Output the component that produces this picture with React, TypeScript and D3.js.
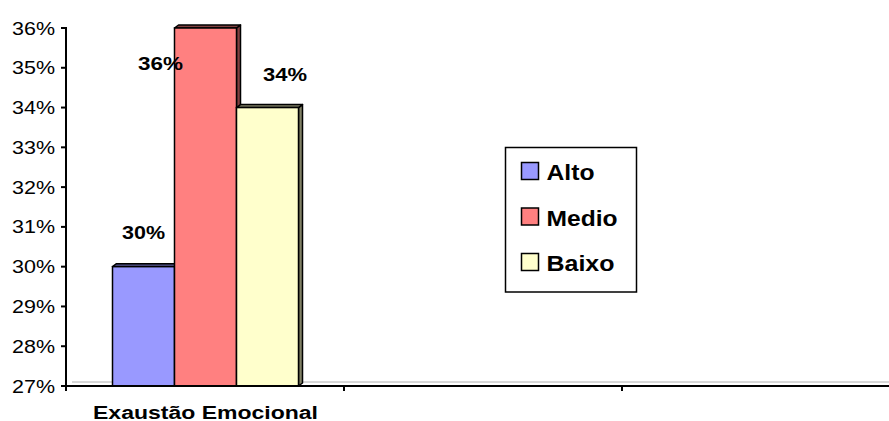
import React from "react";
import * as d3 from "d3";

const categories = ["Exaustão Emocional", "", ""];
const seriesNames = ["Alto", "Medio", "Baixo"];
const seriesValues = [30, 36, 34];
const seriesColors = ["#9999ff", "#ff8080", "#ffffcc"];
const sideColors = ["#4d4d80", "#804040", "#808066"];
const yTicks = [27, 28, 29, 30, 31, 32, 33, 34, 35, 36];

export default function App() {
  const W = 889, H = 421;
  const x0 = 66, yTop = 28, yBot = 386;
  const y = d3.scaleLinear().domain([27, 36]).range([yBot, yTop]);
  const xCat = d3.scaleBand().domain(["0", "1", "2"]).range([x0, x0 + 3 * 278]);
  const bw = 62;
  const barStart = 112.5;
  const dx = 4, dy = 3;
  const font = "Liberation Sans, Arial, sans-serif";
  const labelPos = [
    { x: 143.5, y: 239, w: 43 },
    { x: 160.5, y: 70, w: 45 },
    { x: 285, y: 81, w: 44 },
  ];
  const legendW = [48, 71, 68];
  const legendBase = [180, 225.5, 271];
  return (
    <svg width={W} height={H} style={{ position: "absolute", left: 0, top: 0 }} fontFamily={font}>
      <rect width={W} height={H} fill="#fff" />
      <line x1={72} x2={W} y1={382} y2={382} stroke="#b0b0b0" strokeWidth={1} />
      {seriesValues.map((v, i) => {
        const xl = barStart + i * bw;
        const xr = xl + bw;
        const yt = y(v);
        return (
          <g key={i}>
            <polygon
              points={`${xr},${yt} ${xr + dx},${yt - dy} ${xr + dx},${yBot - dy} ${xr},${yBot}`}
              fill={sideColors[i]} stroke="#000" strokeWidth={1.5} strokeLinejoin="round" />
            <polygon
              points={`${xl},${yt} ${xl + dx},${yt - dy} ${xr + dx},${yt - dy} ${xr},${yt}`}
              fill={sideColors[i]} stroke="#000" strokeWidth={1.5} strokeLinejoin="round" />
            <rect x={xl} y={yt} width={bw} height={yBot - yt}
              fill={seriesColors[i]} stroke="#000" strokeWidth={1.5} />
          </g>
        );
      })}
      <line x1={x0} x2={x0} y1={yTop - 1} y2={yBot} stroke="#000" strokeWidth={2} />
      {yTicks.map((t) => (
        <g key={t}>
          <line x1={x0 - 5} x2={x0} y1={y(t)} y2={y(t)} stroke="#000" strokeWidth={2} />
          <text x={12} y={y(t) + 6.5} fontSize={18} fill="#000"
            textLength={43} lengthAdjust="spacingAndGlyphs">
            {t}%
          </text>
        </g>
      ))}
      <line x1={x0 - 5} x2={W} y1={yBot} y2={yBot} stroke="#000" strokeWidth={2} />
      {[0, 1, 2].map((i) => (
        <line key={i} x1={x0 + i * 278} x2={x0 + i * 278} y1={yBot} y2={yBot + 5} stroke="#000" strokeWidth={2} />
      ))}
      {categories.map((c, i) =>
        c ? (
          <text key={i} x={(xCat(String(i)) ?? 0) + xCat.bandwidth() / 2 - 112.5 + 0.5} y={418.5}
            fontSize={18} fontWeight="bold" fill="#000"
            textLength={225} lengthAdjust="spacingAndGlyphs">{c}</text>
        ) : null
      )}
      {seriesValues.map((v, i) => (
        <text key={i} x={labelPos[i].x - labelPos[i].w / 2} y={labelPos[i].y}
          fontSize={18} fontWeight="bold" fill="#000"
          textLength={labelPos[i].w} lengthAdjust="spacingAndGlyphs">{v}%</text>
      ))}
      <rect x={505.5} y={147.5} width={131} height={144.5} fill="#fff" stroke="#000" strokeWidth={1.5} />
      {seriesNames.map((n, i) => (
        <g key={n}>
          <rect x={521.5} y={legendBase[i] - 17.5} width={17} height={17} fill={seriesColors[i]} stroke="#000" strokeWidth={1.5} />
          <text x={546.5} y={legendBase[i]} fontSize={22} fontWeight="bold" fill="#000"
            textLength={legendW[i]} lengthAdjust="spacingAndGlyphs">{n}</text>
        </g>
      ))}
    </svg>
  );
}
